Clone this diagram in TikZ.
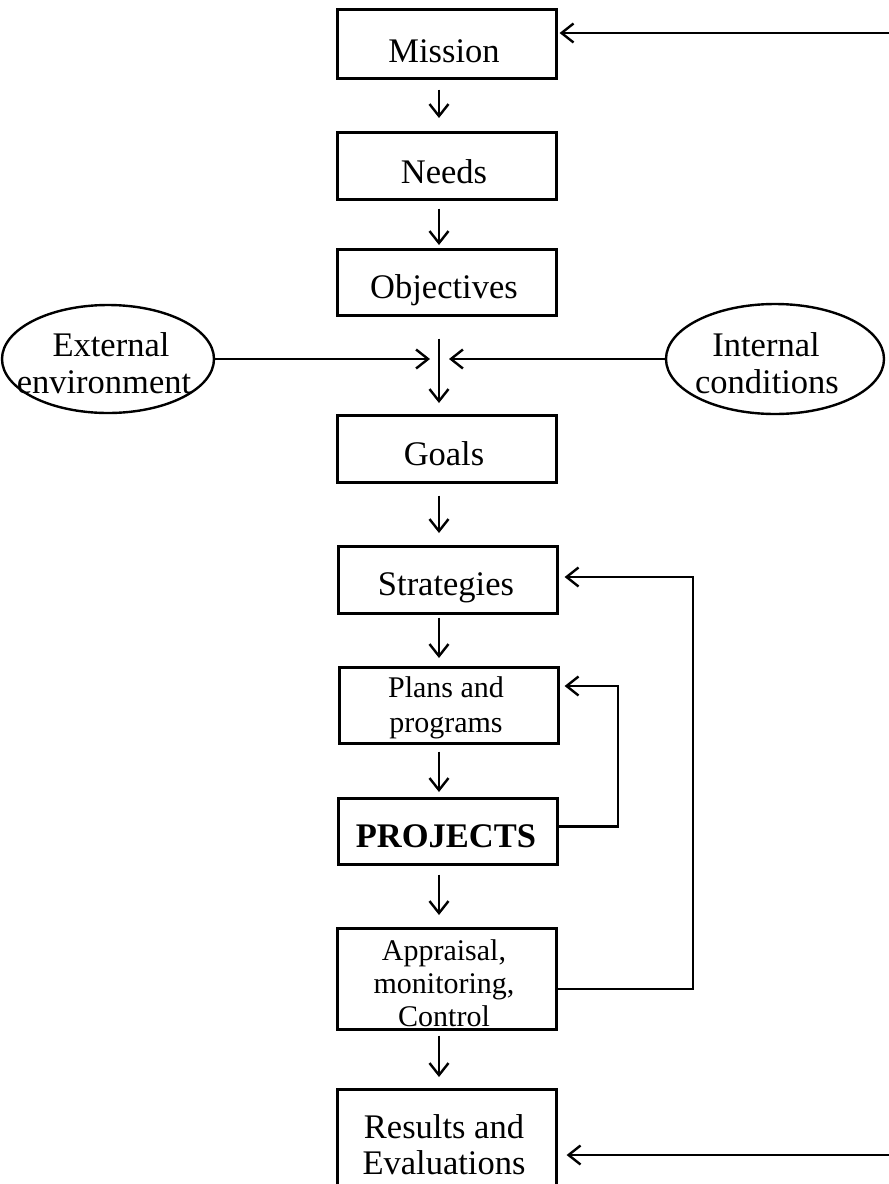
\documentclass[tikz,border=0pt]{standalone}
\usepackage{fontspec}
\setmainfont{Liberation Serif}
\usetikzlibrary{arrows.meta,shapes.geometric}
\begin{document}
\begin{tikzpicture}[x=1pt,y=-1pt,
  box/.style={draw,line width=2.6pt,anchor=north west,minimum width=219pt,inner sep=0pt},
  oval/.style={draw,ellipse,line width=2.4pt,inner sep=0pt},
  big/.style={anchor=base,font=\fontsize{34.5}{40}\selectfont,inner sep=0pt},
  small/.style={anchor=base,font=\fontsize{30}{34}\selectfont,inner sep=0pt},
  arr/.style={line width=2.4pt,-{Straight Barb[length=12pt,width=19pt]}},
]
\clip (0,0) rectangle (889,1184);
\fill[white] (0,0) rectangle (889,1184);

% main chain of boxes
\node[box,minimum height=69pt]  (mission)    at (336,8)    {};
\node[box,minimum height=67pt]  (needs)      at (336,131)  {};
\node[box,minimum height=66pt]  (objectives) at (336,248)  {};
\node[box,minimum height=67pt]  (goals)      at (336,414)  {};
\node[box,minimum height=67pt]  (strategies) at (337,545)  {};
\node[box,minimum height=76pt]  (plans)      at (338,666)  {};
\node[box,minimum height=66pt]  (projects)   at (337,797)  {};
\node[box,minimum height=101pt] (appraisal)  at (336,927)  {};
\node[box,minimum height=130pt] (results)    at (336,1088) {};

% side influences
\node[oval,minimum width=212pt,minimum height=108pt] (external) at (108,359) {};
\node[oval,minimum width=218pt,minimum height=110pt] (internal) at (775,359) {};

% labels
\node[big] (tMission) at (444,62) {Mission};
\node[big] (tNeeds) at (444,183) {Needs};
\node[big] (tObjectives) at (444,298) {Objectives};
\node[big] (tGoals) at (444,465) {Goals};
\node[big] (tStrategies) at (446,595) {Strategies};
\node[small] (tPlansA) at (446,697) {Plans and};
\node[small] (tPlansB) at (446,732) {programs};
\node[big] (tProjects) at (446,847) {\bfseries PROJECTS};
\node[small] (tApprA) at (444,960) {Appraisal,};
\node[small] (tApprB) at (444,993) {monitoring,};
\node[small] (tApprC) at (444,1026) {Control};
\node[big] (tResA) at (444,1138) {Results and};
\node[big] (tResB) at (444,1174) {Evaluations};
\node[big] (tExtA) at (111,356) {External};
\node[big] (tExtB) at (104,393) {environment};
\node[big] (tIntA) at (766,356) {Internal};
\node[big] (tIntB) at (767,393) {conditions};

% vertical flow
\coordinate (spine) at (439,0);
\draw[arr,shorten <=10pt,shorten >=13pt] (mission.south -| spine) -- (needs.north -| spine);
\draw[arr,shorten <=8pt,shorten >=3pt] (needs.south -| spine) -- (objectives.north -| spine);
\draw[arr,shorten <=22pt,shorten >=11pt] (objectives.south -| spine) -- (goals.north -| spine);
\draw[arr,shorten <=12pt,shorten >=12pt] (goals.south -| spine) -- (strategies.north -| spine);
\draw[arr,shorten <=3pt,shorten >=8pt] (strategies.south -| spine) -- (plans.north -| spine);
\draw[arr,shorten <=7pt,shorten >=5pt] (plans.south -| spine) -- (projects.north -| spine);
\draw[arr,shorten <=9pt,shorten >=12pt] (projects.south -| spine) -- (appraisal.north -| spine);
\draw[arr,shorten <=5pt,shorten >=11pt] (appraisal.south -| spine) -- (results.north -| spine);

% influences meeting the flow
\coordinate (inL) at (430,359);
\coordinate (inR) at (449,359);
\draw[arr] (external.east) -- (inL);
\draw[arr] (internal.west) -- (inR);

% feedback loops
\coordinate (fbS) at (693,577);
\draw[arr,shorten >=6pt] ([yshift=-10pt]appraisal.east) -| (fbS) -- (fbS -| strategies.east);
\coordinate (fbP) at (618,686);
\draw[arr,shorten >=5pt] ([yshift=5pt]projects.east) -| (fbP) -- (fbP -| plans.east);

% returns from the right margin
\coordinate (edgeM) at (889,33);
\draw[arr,shorten >=2pt] (edgeM) -- (edgeM -| mission.east);
\coordinate (edgeR) at (889,1155);
\draw[arr,shorten >=9pt] (edgeR) -- (edgeR -| results.east);
\end{tikzpicture}
\end{document}
